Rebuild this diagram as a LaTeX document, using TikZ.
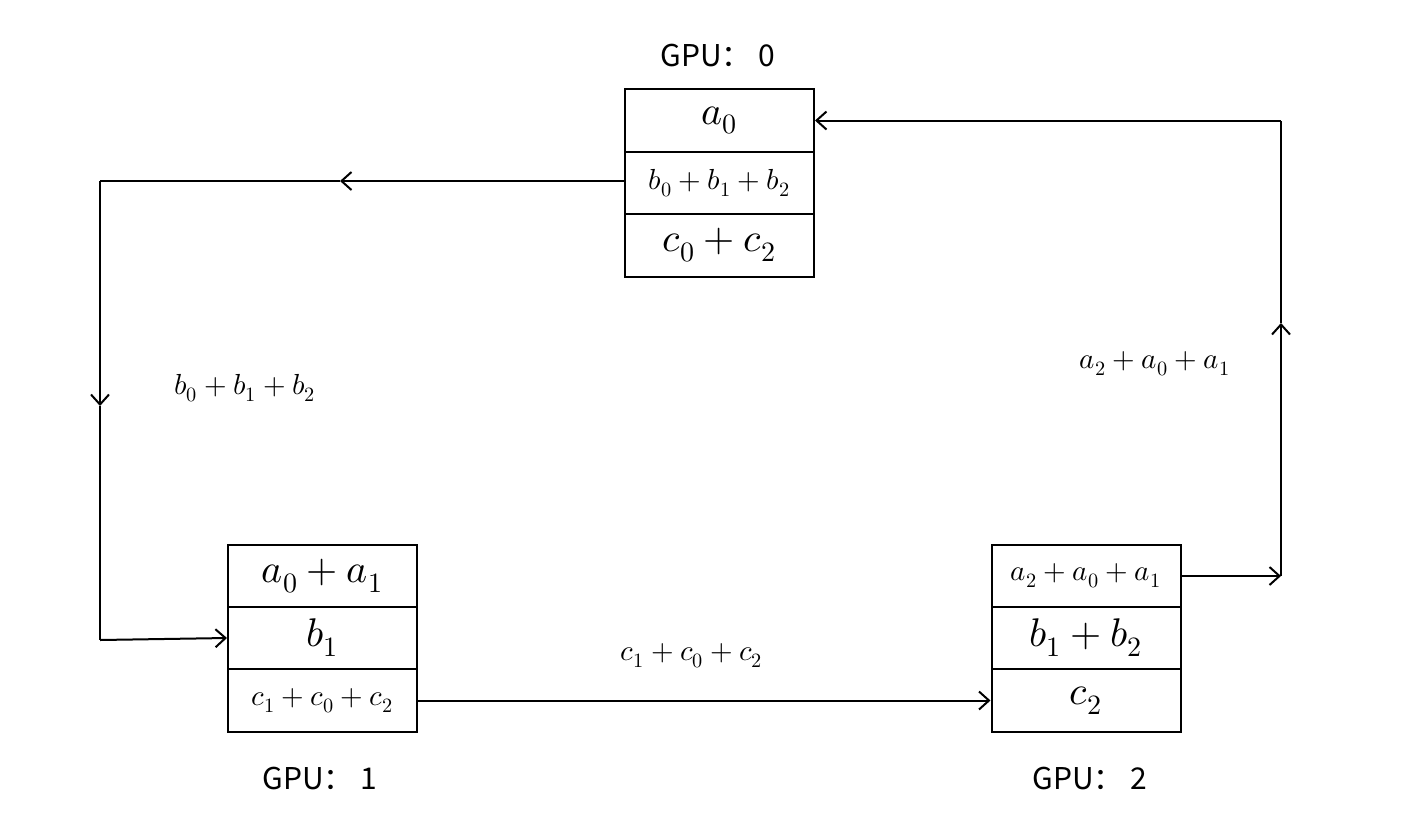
\documentclass[tikz,border=0pt]{standalone}
\usepackage{fontspec}
\usepackage{unicode-math}
\setmathfont{Latin Modern Math}
\newfontfamily\cjk{Noto Sans CJK SC}
\usetikzlibrary{arrows.meta}
\begin{document}
\begin{tikzpicture}[x=0.5pt,y=-0.5pt,
  cell/.style={draw, line width=1pt, minimum width=94.5pt, minimum height=31.25pt, inner sep=0pt},
  big/.style={font=\fontsize{20}{23}\selectfont},
  small/.style={font=\fontsize{14.5}{16}\selectfont},
  gpu/.style={font=\cjk\fontsize{15}{17}\selectfont},
  conn/.style={line width=1pt},
  tip/.style={-{Straight Barb[length=5pt,width=9pt]}}]
\useasboundingbox (0,0) rectangle (1410,816);

% GPU 0
\node[gpu] (t0) at (718,55) {GPU： 0};
\node[cell,big]   (g0a) at (719.5,120.5) {$a_0$};
\node[cell,small] (g0b) at (719.5,183)   {$b_0+b_1+b_2$};
\node[cell,big]   (g0c) at (719.5,245.5) {$c_0+c_2$};

% GPU 1
\node[cell,big]   (g1a) at (322.5,576)   {$a_0+a_1$};
\node[cell,big]   (g1b) at (322.5,638)   {$b_1$};
\node[cell,small] (g1c) at (322.5,700.5) {$c_1+c_0+c_2$};
\node[gpu] (t1) at (320,778) {GPU： 1};

% GPU 2
\node[cell,small] (g2a) at (1086,576)   {$a_2+a_0+a_1$};
\node[cell,big]   (g2b) at (1086,638)   {$b_1+b_2$};
\node[cell,big]   (g2c) at (1086,700.5) {$c_2$};
\node[gpu] (t2) at (1090,778) {GPU： 2};

% transfer labels
\node[small] (lb) at (245,388) {$b_0+b_1+b_2$};
\node[small] (la) at (1155,364) {$a_2+a_0+a_1$};
\node[small] (lc) at (692,656) {$c_1+c_0+c_2$};

% ring route: GPU2 -> GPU0
\coordinate (r1) at (1281,576);
\coordinate (r2) at (1281,323);
\coordinate (r3) at (1281,120.5);
\draw[conn,tip] (g2a.east) -- (r1);
\draw[conn,tip] (r1) -- (r2);
\draw[conn] (r2) -- (r3);
\draw[conn,tip] (r3) -- (g0a.east);

% ring route: GPU0 -> GPU1
\coordinate (l1) at (340,181);
\coordinate (l2) at (100,181);
\coordinate (l3) at (100,406);
\coordinate (l4) at (100,640);
\draw[conn,tip] (g0b.west |- l1) -- (l1);
\draw[conn] (l1) -- (l2);
\draw[conn,tip] (l2) -- (l3);
\draw[conn] (l3) -- (l4);
\draw[conn,tip] (l4) -- (g1b.west);

% ring route: GPU1 -> GPU2
\draw[conn,tip] (g1c.east) -- (g2c.west);
\end{tikzpicture}
\end{document}
